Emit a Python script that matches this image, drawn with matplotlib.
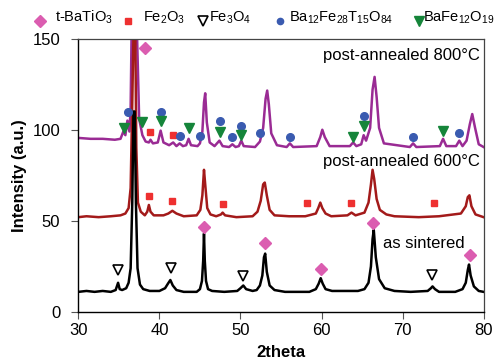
import matplotlib.pyplot as plt
from matplotlib.lines import Line2D

plt.rcParams["font.family"] = ["Liberation Sans", "DejaVu Sans"]
plt.rcParams["mathtext.default"] = "regular"

# as sintered (black) - vertices
sintered_2theta = [30.0, 31.0, 32.0, 33.0, 34.0, 34.6, 34.9, 35.1, 35.4, 35.9, 36.2, 36.45, 36.65, 36.8,
                   36.95, 37.1, 37.3, 37.6, 38.0, 38.8, 40.0, 40.7, 41.05, 41.35, 41.65, 42.1, 43.0, 44.6,
                   45.0, 45.25, 45.4, 45.5, 45.6, 45.75, 46.0, 46.5, 48.0, 49.6, 50.0, 50.35, 50.7, 51.5,
                   52.0, 52.4, 52.7, 52.9, 53.05, 53.25, 53.6, 54.2, 55.5, 58.5, 59.3, 59.65, 59.9, 60.15,
                   60.5, 61.3, 64.5, 65.3, 65.8, 66.1, 66.3, 66.45, 66.7, 67.1, 67.8, 69.0, 71.0, 73.1,
                   73.5, 73.7, 74.0, 74.5, 76.5, 77.4, 77.8, 78.05, 78.2, 78.4, 78.8, 79.4, 80.0]
sintered_int = [11, 11.5, 11, 11.5, 11, 12, 16, 12.5, 12, 13, 16, 24, 60, 110,
                110, 60, 24, 15, 12.5, 11.5, 11.5, 13, 15.5, 17.5, 14.5, 12, 11, 11,
                12.5, 17, 28, 43, 28, 17, 12.5, 11.5, 11, 11.5, 13, 14.5, 12.5, 11.5,
                12, 14.5, 20, 30, 32, 22, 14.5, 12, 11, 11, 12.5, 15.5, 18.5, 15.5,
                12.5, 11.5, 11.5, 12.5, 16, 25, 40, 45, 30, 18, 13, 11.5, 11, 11.5,
                13, 14, 12.5, 11, 11, 12.5, 16, 23, 26, 20, 14, 11.5, 11]

# post-annealed 600 C (dark red)
a600_2theta = [30.0, 31.0, 32.5, 34.0, 35.2, 35.8, 36.2, 36.45, 36.65, 36.85, 37.0, 37.15, 37.35, 37.7,
               38.2, 38.5, 38.7, 38.9, 39.3, 40.5, 41.1, 41.6, 42.1, 43.0, 44.6, 45.05, 45.3, 45.5,
               45.65, 45.9, 46.3, 47.0, 47.6, 47.8, 48.1, 49.5, 51.5, 52.1, 52.5, 52.8, 53.0, 53.25,
               53.6, 54.2, 56.0, 58.0, 59.3, 59.6, 59.85, 60.1, 60.5, 61.2, 63.2, 63.7, 64.2, 65.3,
               65.8, 66.1, 66.3, 66.5, 66.8, 67.2, 68.0, 69.0, 72.0, 74.5, 77.2, 77.8, 78.05, 78.25,
               78.5, 79.0, 80.0]
a600_int = [52, 52.5, 52, 52.5, 53, 54, 57, 68, 115, 165,
            165, 90, 60, 55,
            53, 55, 58.7, 55, 53, 53, 54, 55.5, 54, 52.5, 53, 56, 64, 78,
            70, 57, 53.5, 52.5, 53.5, 54.5, 53, 52, 52.5, 55, 61,
            70, 71, 64, 56, 53, 52.5, 52.5, 54, 57, 60, 57, 54, 52.5, 53, 54.5, 53, 54.5,
            60, 70, 78, 73, 62, 56, 53.5, 52.5, 52, 52.5, 54, 58, 63, 64, 58, 53.5, 52]

# post-annealed 800 C (purple)
a800_2theta = [30.0, 31.5, 33.0, 34.5, 35.2, 35.55, 35.8, 36.05, 36.3, 36.45, 36.6, 36.75, 37.05, 37.25,
               37.5, 37.9, 38.3, 38.7, 38.9, 39.2, 39.8, 40.15, 40.5, 41.2, 41.7, 42.1, 42.5, 42.9,
               43.3, 43.6, 43.9, 44.7, 45.0, 45.3, 45.5, 45.65, 45.85, 46.2, 46.8, 47.4, 47.8, 48.6,
               49.0, 49.4, 49.8, 50.1, 50.4, 51.8, 52.4, 52.8, 53.1, 53.3, 53.5, 53.8, 54.5, 55.7,
               56.1, 56.5, 59.4, 59.85, 60.1, 60.4, 61.0, 63.5, 63.9, 64.3, 64.9, 65.2, 65.5, 66.0,
               66.3, 66.55, 66.8, 67.1, 67.7, 70.9, 71.3, 71.7, 74.6, 75.0, 75.4, 76.6, 77.0, 77.4,
               77.9, 78.3, 78.6, 78.95, 79.4, 80.0]
a800_int = [95.5, 95, 95, 94.5, 95, 99, 97, 105, 99, 112, 165, 180, 180, 150,
            106, 97, 93.5, 93, 94.5, 92.5, 93, 99.5, 93, 91.5, 93, 91, 92.5, 91,
            91.5, 95, 91.5, 91, 92.5, 99, 115, 120, 104, 93, 91, 94, 91, 90.5,
            92, 90.5, 91, 94, 91, 90.5, 93.5, 101, 117, 121.5, 114, 98, 91.5, 90.5,
            92.5, 90.5, 91, 96, 100, 96, 91, 91, 93, 91, 92, 97, 94, 101,
            122, 129, 118, 101, 92.5, 90.5, 92.5, 90.5, 91, 95, 91, 91, 94, 91,
            94, 103, 108.6, 101, 92, 90.5]

# phase markers
batio3_x = [38.2, 45.5, 53.0, 59.9, 66.4, 78.3]
batio3_y = [144.7, 46.6, 38, 23.6, 49, 31]
fe2o3_x = [38.9, 41.7, 38.7, 41.6, 47.8, 58.2, 63.6, 73.9]
fe2o3_y = [98.7, 97, 63.6, 61, 59, 60, 60, 60]
fe3o4_x = [34.9, 41.4, 50.3, 73.6]
fe3o4_y = [23, 24.3, 19.7, 20.3]
ba12_x = [36.1, 40.2, 42.5, 45.0, 47.5, 49.0, 50.1, 52.4, 56.1, 65.2, 71.3, 77.0]
ba12_y = [110, 110, 96.6, 96.6, 104.8, 96, 102, 98, 96, 107.5, 96, 98.4]
bafe_x = [35.6, 37.9, 40.2, 43.6, 47.5, 50.1, 63.9, 65.2, 75.0]
bafe_y = [101, 104, 104.8, 101, 99, 97, 96, 102, 99.5]

PURPLE = "#9A2B94"
DARKRED = "#A31A1A"
PINK = "#DB5DB0"
RED = "#EE3030"
BLUE = "#3A5BB0"
GREEN = "#15853A"

fig = plt.figure(figsize=(4.96, 3.61), dpi=100)
ax = fig.add_axes([0.158, 0.136, 0.817, 0.757])

ax.plot(a800_2theta, a800_int, color=PURPLE, lw=1.8)
ax.plot(a600_2theta, a600_int, color=DARKRED, lw=1.8)
ax.plot(sintered_2theta, sintered_int, color="black", lw=1.8)

ax.plot(batio3_x, batio3_y, "D", color=PINK, ms=6.5, ls="none", clip_on=False)
ax.plot(fe2o3_x, fe2o3_y, "s", color=RED, ms=5, ls="none")
ax.plot(fe3o4_x, fe3o4_y, "v", mfc="white", mec="black", mew=1.2, ms=7.5, ls="none")
ax.plot(ba12_x, ba12_y, "o", color=BLUE, ms=5.5, ls="none")
ax.plot(bafe_x, bafe_y, "v", color=GREEN, ms=7.5, ls="none")

ax.text(79.6, 141, "post-annealed 800°C", ha="right", va="center", fontsize=12)
ax.text(79.6, 82.5, "post-annealed 600°C", ha="right", va="center", fontsize=12)
ax.text(67.6, 37.8, "as sintered", ha="left", va="center", fontsize=12)

ax.set_xlim(30, 80)
ax.set_ylim(0, 150)
ax.set_xticks([30, 40, 50, 60, 70, 80])
ax.set_yticks([0, 50, 100, 150])
ax.tick_params(direction="out", length=5, width=0.8, labelsize=12, color="#555555")
ax.tick_params(axis="y", pad=8)
ax.tick_params(axis="x", pad=3)
ax.set_xlabel("2theta", fontsize=12, fontweight="bold", labelpad=5)
ax.set_ylabel("Intensity (a.u.)", fontsize=12, fontweight="bold", labelpad=4)
for side in ["top", "right"]:
    ax.spines[side].set_color("#444444")
    ax.spines[side].set_linewidth(0.9)
for side in ["left", "bottom"]:
    ax.spines[side].set_color("black")
    ax.spines[side].set_linewidth(1.0)

# legend row at the top, placed by hand
legend_y = 0.951
entries = [
    (40 / 496, 55 / 496, "D", dict(color=PINK, ms=6), "t-BaTiO$_3$"),
    (128 / 496, 143 / 496, "s", dict(color=RED, ms=4.5), "Fe$_2$O$_3$"),
    (203 / 496, 209 / 496, "v", dict(mfc="white", mec="black", mew=1.2, ms=7.5), "Fe$_3$O$_4$"),
    (280 / 496, 289 / 496, "o", dict(color=BLUE, ms=4.5), "Ba$_{12}$Fe$_{28}$T$_{15}$O$_{84}$"),
    (419 / 496, 423 / 496, "v", dict(color=GREEN, ms=7.5), "BaFe$_{12}$O$_{19}$"),
]
for mx, tx, marker, style, label in entries:
    fig.add_artist(Line2D([mx], [legend_y - 0.008], marker=marker, ls="none",
                          transform=fig.transFigure, **style))
    fig.text(tx, legend_y, label, ha="left", va="center", fontsize=10.5)

fig.savefig("out.png", dpi=100)
